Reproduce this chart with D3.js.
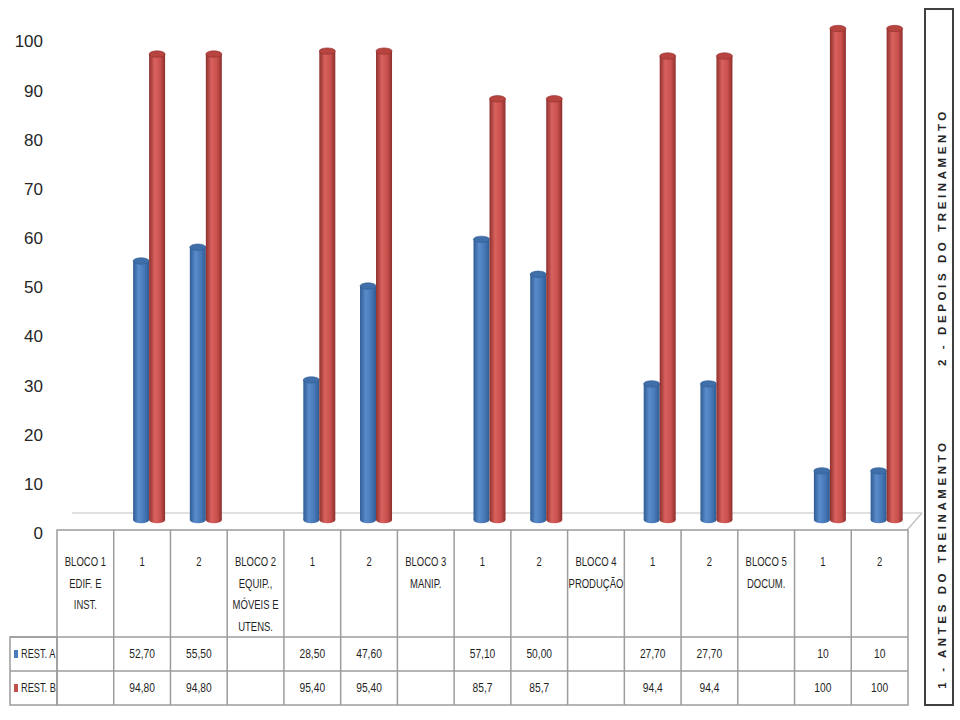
<!DOCTYPE html>
<html><head><meta charset="utf-8">
<script src="https://cdn.jsdelivr.net/npm/d3@7"></script>
<style>
html,body{margin:0;padding:0;background:#fff;}
text{font-family:"Liberation Sans Narrow","Arial Narrow","Liberation Sans",sans-serif;}
</style></head>
<body>
<svg id="chart" width="960" height="720"></svg>
<script>
const categories = ["BLOCO 1\nEDIF. E\nINST.", "1", "2", "BLOCO 2\nEQUIP.,\nMÓVEIS E\nUTENS.", "1", "2", "BLOCO 3\nMANIP.", "1", "2", "BLOCO 4\nPRODUÇÃO", "1", "2", "BLOCO 5\nDOCUM.", "1", "2"];
const restA = [null, 52.7, 55.5, null, 28.5, 47.6, null, 57.1, 50.0, null, 27.7, 27.7, null, 10, 10];
const restB = [null, 94.8, 94.8, null, 95.4, 95.4, null, 85.7, 85.7, null, 94.4, 94.4, null, 100, 100];
const restALabels = ["", "52,70", "55,50", "", "28,50", "47,60", "", "57,10", "50,00", "", "27,70", "27,70", "", "10", "10"];
const restBLabels = ["", "94,80", "94,80", "", "95,40", "95,40", "", "85,7", "85,7", "", "94,4", "94,4", "", "100", "100"];
const seriesNames = ["REST. A", "REST. B"];
const yTicks = [0, 10, 20, 30, 40, 50, 60, 70, 80, 90, 100];
const sideLabels = ["1 - ANTES DO TREINAMENTO", "2 - DEPOIS DO TREINAMENTO"];

const svg = d3.select("#chart");
const defs = svg.append("defs");
function cylGrad(id, dark, mid, light) {
  const g = defs.append("linearGradient").attr("id", id).attr("x1", "0").attr("x2", "1").attr("y1", "0").attr("y2", "0");
  g.append("stop").attr("offset", "0%").attr("stop-color", dark);
  g.append("stop").attr("offset", "35%").attr("stop-color", light);
  g.append("stop").attr("offset", "70%").attr("stop-color", mid);
  g.append("stop").attr("offset", "100%").attr("stop-color", dark);
}
cylGrad("gA", "#2f5c94", "#4677b6", "#5a8bcb");
cylGrad("gB", "#8e2f2d", "#c9504d", "#d9625e");

const colors = {A: "#4a7ebb", B: "#c0504d"};

const x = d3.scaleBand().domain(d3.range(categories.length)).range([57, 908]).padding(0);
const y = d3.scaleLinear().domain([0, 100]).range([520, 28.5]);

// floor
svg.append("line").attr("x1", 72).attr("x2", 922).attr("y1", 513).attr("y2", 513)
  .attr("stroke", "#d6d6d6").attr("stroke-width", 1.5);
svg.append("line").attr("x1", 922).attr("y1", 513).attr("x2", 907).attr("y2", 530)
  .attr("stroke", "#bdbdbd").attr("stroke-width", 1.2);

// y tick labels (3D offset)
svg.append("g").selectAll("text").data(yTicks).join("text")
  .attr("x", 43).attr("y", d => y(d) + 13).attr("dy", "0.35em")
  .attr("text-anchor", "end").attr("font-size", 17).attr("fill", "#262626")
  .text(d => d);

// cylinders
const bw = 16, ry = 3.2, shift = 7;
function drawCyl(g, data, xoff, grad, topFill, edge) {
  const items = data.map((v, i) => ({v, i})).filter(d => d.v !== null);
  const gg = g.selectAll(null).data(items).join("g");
  gg.append("rect")
    .attr("x", d => x(d.i) + x.bandwidth() / 2 + shift + xoff)
    .attr("y", d => y(d.v))
    .attr("width", bw)
    .attr("height", d => y(0) - y(d.v))
    .attr("fill", `url(#${grad})`);
  gg.append("ellipse")
    .attr("cx", d => x(d.i) + x.bandwidth() / 2 + shift + xoff + bw / 2)
    .attr("cy", y(0))
    .attr("rx", bw / 2).attr("ry", ry)
    .attr("fill", `url(#${grad})`);
  gg.append("ellipse")
    .attr("cx", d => x(d.i) + x.bandwidth() / 2 + shift + xoff + bw / 2)
    .attr("cy", d => y(d.v))
    .attr("rx", bw / 2).attr("ry", ry)
    .attr("fill", topFill).attr("stroke", edge).attr("stroke-width", 0.6);
}
const bars = svg.append("g");
drawCyl(bars, restA, -bw, "gA", "#3f6ea9", "#2f5c94");
drawCyl(bars, restB, 0, "gB", "#b8443f", "#8e2f2d");

// table
const tTop = 530, tHead = 637, tRowA = 671, tBot = 705, legL = 10;
const tbl = svg.append("g").attr("stroke", "#9c9c9c").attr("stroke-width", 1.5).attr("fill", "none");
tbl.append("rect").attr("x", 57).attr("y", tTop).attr("width", 908 - 57).attr("height", tBot - tTop);
tbl.append("rect").attr("x", legL).attr("y", tHead).attr("width", 57 - legL).attr("height", tBot - tHead);
tbl.selectAll("line.v").data(d3.range(1, categories.length)).join("line")
  .attr("x1", d => x(d)).attr("x2", d => x(d)).attr("y1", tTop).attr("y2", tBot);
tbl.append("line").attr("x1", legL).attr("x2", 908).attr("y1", tHead).attr("y2", tHead);
tbl.append("line").attr("x1", legL).attr("x2", 908).attr("y1", tRowA).attr("y2", tRowA);

// header text
const hdr = svg.append("g");
categories.forEach((c, i) => {
  const lines = c.split("\n");
  const cx = x(i) + x.bandwidth() / 2;
  const t = hdr.append("text").attr("transform", `translate(${cx},0) scale(0.76,1)`)
    .attr("text-anchor", "middle").attr("font-size", 12.5).attr("fill", "#1f1f1f");
  lines.forEach((l, k) => {
    t.append("tspan").attr("x", 0).attr("y", 562 + k * 21.5).attr("dy", "0.35em").text(l);
  });
});

// value rows
const rows = [restALabels, restBLabels];
const rowY = [(tHead + tRowA) / 2, (tRowA + tBot) / 2];
rows.forEach((r, k) => {
  svg.append("g").selectAll("text").data(r).join("text")
    .attr("transform", (d, i) => `translate(${x(i) + x.bandwidth() / 2},${rowY[k]}) scale(0.82,1)`)
    .attr("dy", "0.35em").attr("text-anchor", "middle").attr("font-size", 12.5).attr("fill", "#1f1f1f")
    .text(d => d);
});

// legend
const legColors = [colors.A, colors.B];
seriesNames.forEach((s, k) => {
  svg.append("rect").attr("x", 14).attr("y", rowY[k] - 4).attr("width", 4).attr("height", 8).attr("fill", legColors[k]);
  svg.append("text").attr("transform", `translate(21,${rowY[k]}) scale(0.74,1)`).attr("dy", "0.35em")
    .attr("font-size", 12.5).attr("fill", "#1f1f1f").text(s);
});

// right side box
svg.append("rect").attr("x", 925).attr("y", 9).attr("width", 28).attr("height", 696)
  .attr("fill", "#fff").attr("stroke", "#404040").attr("stroke-width", 2);
const sideY = [564, 237];
sideLabels.forEach((s, k) => {
  svg.append("text").attr("transform", `translate(942,${sideY[k]}) rotate(-90)`)
    .attr("text-anchor", "middle").attr("dy", "0.35em")
    .style("font-family", "'Liberation Sans',Arial,sans-serif")
    .attr("font-weight", "bold").attr("font-size", 11.5).attr("letter-spacing", 3.6)
    .attr("fill", "#262626").text(s);
});
</script>
</body></html>
